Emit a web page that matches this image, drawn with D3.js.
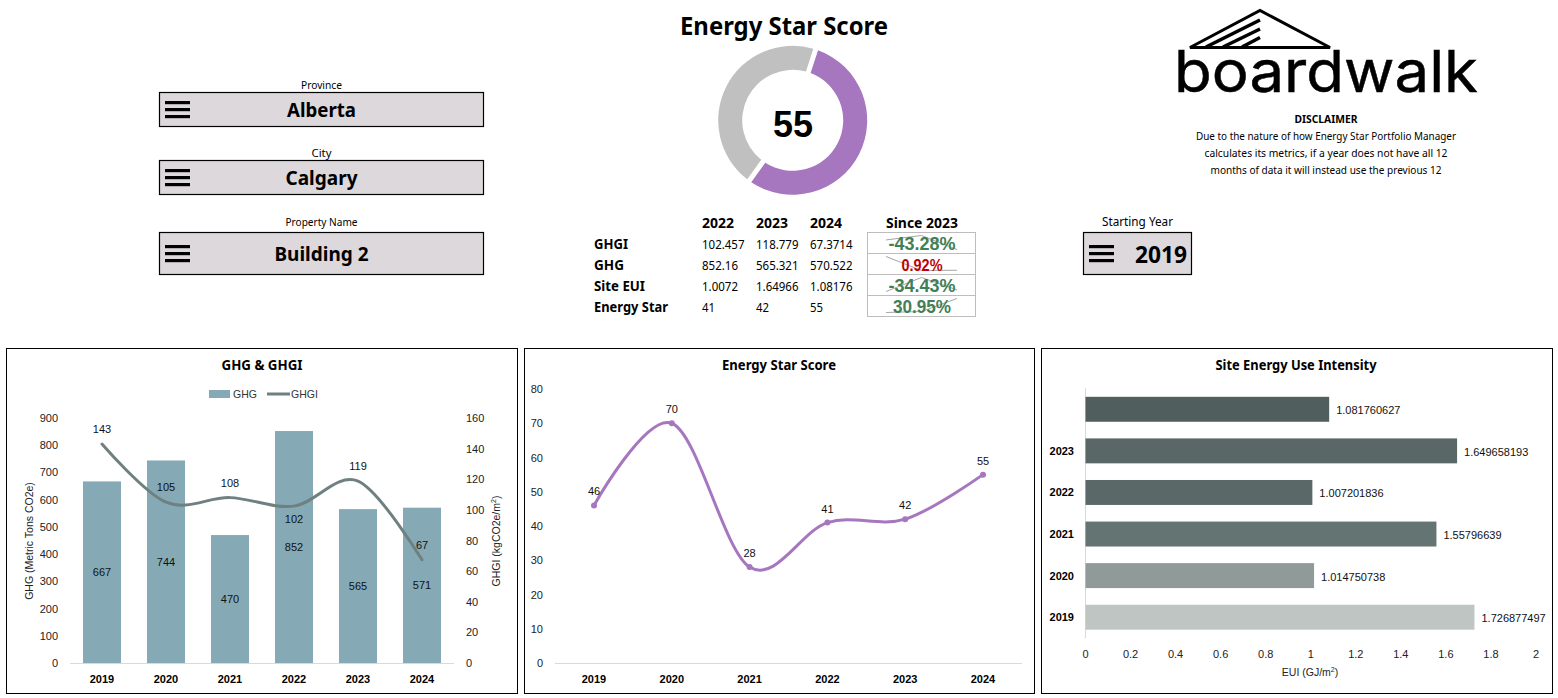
<!DOCTYPE html>
<html><head><meta charset="utf-8">
<script src="https://cdn.jsdelivr.net/npm/d3@7/dist/d3.min.js"></script>
<style>html,body{margin:0;padding:0;background:#fff;overflow:hidden}svg{display:block}</style>
</head><body><svg id="c" width="1558" height="698"></svg>
<script>
const years=["2019","2020","2021","2022","2023","2024"];
const ghg=[667,744,470,852.16,565.321,570.522];
const ghgi=[143,105,108,102.457,118.779,67.3714];
const score=[46,70,28,41,42,55];
const eui=[1.726877497,1.014750738,1.55796639,1.007201836,1.649658193,1.081760627];
const euiCats=["2019","2020","2021","2022","2023",""];
const euiColors=["#bfc5c3","#8f9a99","#647473","#5a6868","#5a6767","#505e5e"];
const gaugeValues=[55,45];
const tableYears=["2022","2023","2024"];
const tableRows=["GHGI","GHG","Site EUI","Energy Star"];
const tableVals=[["102.457","118.779","67.3714"],["852.16","565.321","570.522"],["1.0072","1.64966","1.08176"],["41","42","55"]];
const sinceVals=["-43.28%","0.92%","-34.43%","30.95%"];
const sinceSpark=[[102.457,118.779,67.3714],[852.16,565.321,570.522],[1.0072,1.64966,1.08176],[41,42,55]];
const disclaimer=["Due to the nature of how Energy Star Portfolio Manager","calculates its metrics, if a year does not have all 12","months of data it will instead use the previous 12"];

const UI='"Noto Sans",sans-serif', AR='"Liberation Sans",Arial,sans-serif';
const svg=d3.select("#c");
function T(x,y,s,o={}){
  const t=svg.append("text").attr("x",x).attr("y",y).text(s)
    .attr("font-family",o.f||UI).attr("font-size",o.s||11).attr("font-weight",o.w||400)
    .attr("fill",o.c||"#000").attr("text-anchor",o.a||"middle").attr("dominant-baseline","central");
  if(o.len)t.attr("textLength",o.len).attr("lengthAdjust","spacingAndGlyphs");
  if(o.rot)t.attr("transform",`rotate(${o.rot} ${x} ${y})`);
  return t;
}
function panel(x0,x1){svg.append("rect").attr("x",x0+.5).attr("y",348.5).attr("width",x1-x0-1).attr("height",345).attr("fill","#fff").attr("stroke","#000").attr("stroke-width",1);}
function burger(x,cy){[-7,0,7].forEach(d=>svg.append("rect").attr("x",x).attr("y",cy+d-1.5).attr("width",25).attr("height",3.2).attr("fill","#000"));}
function slicer(label,value,x,y,w,h,ly,o={}){
  T(x+w/2,ly,label,{s:o.ls||10.5,len:o.ll});
  svg.append("rect").attr("x",x+.5).attr("y",y+.5).attr("width",w-1).attr("height",h-1).attr("fill","#dcd8dc").attr("stroke","#000").attr("stroke-width",1.2);
  burger(x+6,y+h/2);
  T(o.vx||x+w/2,y+h/2,value,{s:o.vs||20,w:700,len:o.vl});
}
slicer("Province","Alberta",159,92,325,35,85,{ll:41,vl:69});
slicer("City","Calgary",159,160,325,35,153,{ll:20,vl:72});
slicer("Property Name","Building 2",159,232,325,43,222,{ll:72,vl:94});
slicer("Starting Year","2019",1083,232,109,43,221,{ls:12,ll:71,vs:24,vx:1161,vl:52});

// gauge
T(784,25,"Energy Star Score",{s:25,w:700,len:208});
const pie=d3.pie().sort(null).startAngle(18*Math.PI/180).endAngle(378*Math.PI/180).padAngle(0.055);
const arc=d3.arc().innerRadius(50.5).outerRadius(74.5);
svg.append("g").attr("transform","translate(792.7,120.3)").selectAll("path").data(pie(gaugeValues)).join("path")
  .attr("d",arc).attr("fill",(d,i)=>["#a676bf","#c0c0c0"][i]);
T(793,124,gaugeValues[0],{s:36,w:700,f:AR});

// logo
const logo=svg.append("g").attr("stroke","#000").attr("fill","none").attr("stroke-linecap","butt");
logo.append("path").attr("d","M1190 47.5L1260 10.5L1330 47.5Z").attr("stroke-width",3).attr("stroke-linejoin","miter");
[[1260,20,1206,47],[1260,29,1223,47],[1260,37.5,1242,47]].forEach(l=>logo.append("line").attr("x1",l[0]).attr("y1",l[1]).attr("x2",l[2]).attr("y2",l[3]).attr("stroke-width",3.5));
svg.append("text").attr("x",1174).attr("y",91.5).text("boardwalk").attr("font-family","Inter,sans-serif").attr("font-size",58).attr("fill","#000")
  .attr("stroke","#000").attr("stroke-width",.5).attr("textLength",304).attr("lengthAdjust","spacingAndGlyphs");
T(1326,119,"DISCLAIMER",{s:10.5,w:700,len:63});
disclaimer.forEach((s,i)=>T(1326,136+i*17,s,{s:10.5,len:[260,243,231][i]}));

// table
const colX=[702,756,810], rowY=[243.5,264.5,285.5,306.5];
tableYears.forEach((y,i)=>T(colX[i],222.5,y,{a:"start",s:14,w:700,len:32}));
T(922,222.5,"Since 2023",{s:14,w:700,len:72});
tableRows.forEach((r,i)=>{
  T(594,rowY[i],r,{a:"start",s:14,w:700,len:[34,30,51,74][i]});
  tableVals[i].forEach((v,j)=>T(colX[j],rowY[i]+.5,v,{a:"start",s:12.5,len:v.length*6.5-(v.includes(".")?3:0)}));
});
svg.append("rect").attr("x",867.5).attr("y",232.5).attr("width",108).attr("height",84).attr("fill","#fff").attr("stroke","#bdbdbd");
[253.5,274.5,295.5].forEach(y=>svg.append("line").attr("x1",868).attr("x2",975).attr("y1",y).attr("y2",y).attr("stroke","#bdbdbd"));
sinceVals.forEach((v,i)=>{
  const cy=rowY[i];
  const sx=d3.scalePoint().domain([0,1,2]).range([886,957]);
  const e=d3.extent(sinceSpark[i]);
  const sy=d3.scaleLinear().domain(e).range([cy+6,cy-8]);
  svg.append("path").attr("d",d3.line().x((d,k)=>sx(k)).y(d=>sy(d))(sinceSpark[i])).attr("fill","none").attr("stroke","#a6a6a6").attr("stroke-width",1);
  T(922,cy+.5,v,{f:AR,s:i==1?16:17.5,w:700,c:i==1?"#c00000":"#3f8055",len:[67,41,67,58][i]});
});

// chart 1
panel(6,518);
T(262,364.5,"GHG & GHGI",{s:14,w:700,len:81});
const x1=d3.scaleBand().domain(years).range([70,454]).paddingInner(0.406).paddingOuter(0.203);
const y1=d3.scaleLinear().domain([0,900]).range([663,418]);
const y1r=d3.scaleLinear().domain([0,160]).range([663,418]);
svg.append("rect").attr("x",209).attr("y",390).attr("width",21).attr("height",8).attr("fill","#86aab5");
T(233,394,"GHG",{a:"start",f:AR,s:10.5,c:"#333"});
svg.append("line").attr("x1",267).attr("x2",290).attr("y1",394).attr("y2",394).attr("stroke","#6e8080").attr("stroke-width",3);
T(291,394,"GHGI",{a:"start",f:AR,s:10.5,c:"#333"});
svg.append("g").selectAll("rect").data(ghg).join("rect")
  .attr("x",(d,i)=>x1(years[i])).attr("width",x1.bandwidth()).attr("y",d=>y1(d)).attr("height",d=>663-y1(d)).attr("fill","#86aab5");
svg.append("line").attr("x1",70).attr("x2",454).attr("y1",663.5).attr("y2",663.5).attr("stroke","#d9d9d9");
y1.ticks(9).forEach(t=>T(58,y1(t),t,{a:"end",f:AR,s:11,c:"#222"}));
y1r.ticks(8).forEach(t=>T(466,y1r(t),t,{a:"start",f:AR,s:11,c:"#222"}));
years.forEach(y=>T(x1(y)+x1.bandwidth()/2,679,y,{f:AR,s:11,w:700}));
T(29,541,"GHG (Metric Tons CO2e)",{rot:-90,f:AR,s:10.5,c:"#222"});
svg.append("text").attr("transform","translate(496,541) rotate(-90)").attr("text-anchor","middle").attr("dominant-baseline","central").attr("font-family",AR).attr("font-size",10.5).attr("fill","#222")
  .html('GHGI (kgCO2e/m<tspan dy="-3" font-size="7">2</tspan><tspan dy="3">)</tspan>');
const cx1=y=>x1(y)+x1.bandwidth()/2;
svg.append("path").attr("d",d3.line().curve(d3.curveCardinal.tension(0)).x((d,i)=>cx1(years[i])).y(d=>y1r(d))(ghgi)).attr("fill","none").attr("stroke","#6e8080").attr("stroke-width",3).attr("stroke-linecap","round");
ghg.forEach((d,i)=>T(cx1(years[i]),y1(d/2),Math.round(d),{f:AR,s:11,c:"#111"}));
ghgi.forEach((d,i)=>T(cx1(years[i]),y1r(d)+(i==3?13:-15),Math.round(d),{f:AR,s:11,c:"#111"}));

// chart 2
panel(524,1035);
T(779,364.5,"Energy Star Score",{s:14,w:700,len:114});
const x2=d3.scalePoint().domain(years).range([594,983]);
const y2=d3.scaleLinear().domain([0,80]).range([663,389]);
svg.append("line").attr("x1",555).attr("x2",1022).attr("y1",663.5).attr("y2",663.5).attr("stroke","#d9d9d9");
y2.ticks(8).forEach(t=>T(543,y2(t),t,{a:"end",f:AR,s:11,c:"#222"}));
years.forEach(y=>T(x2(y),679,y,{f:AR,s:11,w:700}));
svg.append("path").attr("d",d3.line().curve(d3.curveCardinal.tension(0)).x((d,i)=>x2(years[i])).y(d=>y2(d))(score)).attr("fill","none").attr("stroke","#a676bf").attr("stroke-width",3).attr("stroke-linecap","round");
svg.append("g").selectAll("circle").data(score).join("circle").attr("cx",(d,i)=>x2(years[i])).attr("cy",d=>y2(d)).attr("r",3).attr("fill","#a676bf");
score.forEach((d,i)=>T(x2(years[i]),y2(d)-14,d,{f:AR,s:11,c:"#111"}));

// chart 3
panel(1041,1553);
T(1296,364.5,"Site Energy Use Intensity",{s:14,w:700,len:161});
const x3=d3.scaleLinear().domain([0,2]).range([1085.5,1536]);
const y3=d3.scaleBand().domain(years).range([638,388.5]).paddingInner(0.4).paddingOuter(0.2);
svg.append("line").attr("x1",1085.5).attr("x2",1085.5).attr("y1",388).attr("y2",638).attr("stroke","#d9d9d9");
svg.append("g").selectAll("rect").data(eui).join("rect").attr("x",x3(0)).attr("y",(d,i)=>y3(years[i])).attr("width",d=>x3(d)-x3(0)).attr("height",y3.bandwidth()).attr("fill",(d,i)=>euiColors[i]);
eui.forEach((d,i)=>{
  const cy=y3(years[i])+y3.bandwidth()/2;
  T(x3(d)+7,cy+1,String(d),{a:"start",f:AR,s:11,c:"#111"});
  T(1074,cy,euiCats[i],{a:"end",f:AR,s:11,w:700});
});
x3.ticks(10).forEach(t=>T(x3(t),654,t,{f:AR,s:11,c:"#222"}));
svg.append("text").attr("x",1310).attr("y",672).attr("text-anchor","middle").attr("dominant-baseline","central").attr("font-family",AR).attr("font-size",10.5).attr("fill","#222")
  .html('EUI (GJ/m<tspan dy="-3" font-size="7">2</tspan><tspan dy="3">)</tspan>');
</script></body></html>
